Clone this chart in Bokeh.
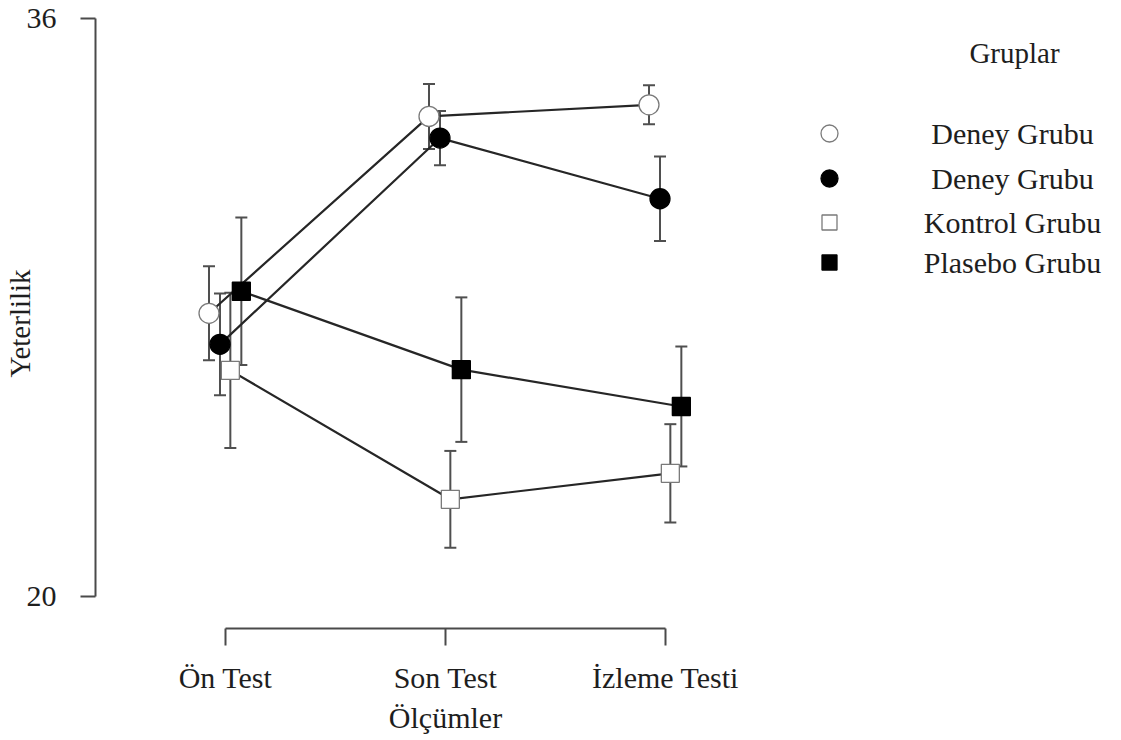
from bokeh.plotting import figure
from bokeh.layouts import row
from bokeh.models import (Range1d, FixedTicker, ColumnDataSource, Whisker, TeeHead, Label)
from bokeh.embed import file_html
from bokeh.resources import INLINE

# Measurement occasions (x axis)
measures = ["Ön Test", "Son Test", "İzleme Testi"]

# Group means and error half-widths for each occasion
group_names = ["Deney Grubu", "Deney Grubu", "Kontrol Grubu", "Plasebo Grubu"]
deney1_mean = [27.84, 33.29, 33.61]
deney1_err = [1.30, 0.90, 0.54]
deney2_mean = [26.98, 32.69, 31.01]
deney2_err = [1.41, 0.75, 1.17]
kontrol_mean = [26.26, 22.69, 23.41]
kontrol_err = [2.15, 1.34, 1.36]
plasebo_mean = [28.45, 26.28, 25.26]
plasebo_err = [2.04, 2.00, 1.66]

y_ticks = [20, 36]

FONT = "Liberation Serif"
TEXT = "#1e1e1e"
AXIS = "#4a4a4a"
BAR = "#4f4f4f"

TOP, BOTTOM = 18, 112

# ---------------- main chart ----------------
p = figure(width=795, height=740, title=None,
           x_range=Range1d(-0.5909, 2.5909), y_range=Range1d(19.114, 36),
           output_backend="svg", toolbar_location=None,
           min_border_left=95, min_border_right=0,
           min_border_top=TOP, min_border_bottom=BOTTOM)
p.outline_line_color = None
p.xgrid.visible = False
p.ygrid.visible = False

# y axis: only 20 and 36 marked, line limited to that span
yax = p.yaxis[0]
yax.ticker = FixedTicker(ticks=y_ticks)
yax.bounds = (20, 36)
yax.major_tick_in = 0
yax.major_tick_out = 15
yax.minor_tick_in = 0
yax.minor_tick_out = 0
yax.major_label_standoff = 24
yax.axis_line_color = AXIS
yax.axis_line_width = 2
yax.major_tick_line_color = AXIS
yax.major_tick_line_width = 2
yax.major_label_text_font = FONT
yax.major_label_text_font_size = "30px"
yax.major_label_text_color = TEXT
yax.axis_label = "Yeterlilik"
yax.axis_label_standoff = -12
yax.axis_label_text_font = FONT
yax.axis_label_text_font_size = "29px"
yax.axis_label_text_font_style = "normal"
yax.axis_label_text_color = TEXT

# x axis: three occasions
xax = p.xaxis[0]
xax.ticker = FixedTicker(ticks=[0, 1, 2])
xax.major_label_overrides = {i: m for i, m in enumerate(measures)}
xax.bounds = (0, 2)
xax.major_tick_in = 0
xax.major_tick_out = 17
xax.minor_tick_in = 0
xax.minor_tick_out = 0
xax.major_label_standoff = 15
xax.axis_line_color = AXIS
xax.axis_line_width = 2
xax.major_tick_line_color = AXIS
xax.major_tick_line_width = 2
xax.major_label_text_font = FONT
xax.major_label_text_font_size = "30px"
xax.major_label_text_color = TEXT
xax.axis_label = "Ölçümler"
xax.axis_label_standoff = 4
xax.axis_label_text_font = FONT
xax.axis_label_text_font_size = "30px"
xax.axis_label_text_font_style = "normal"
xax.axis_label_text_color = TEXT

# marker styles per group: (mean, err, dodge offset, marker, fill, outline, size)
series = [
    (deney1_mean, deney1_err, -0.075, "circle", "white", "#7a7a7a", 20),
    (deney2_mean, deney2_err, -0.025, "circle", "black", "black", 20),
    (kontrol_mean, kontrol_err, 0.022, "square", "white", "#7a7a7a", 18),
    (plasebo_mean, plasebo_err, 0.072, "square", "black", "black", 18),
]

sources = []
for mean, err, off, *_ in series:
    xs = [i + off for i in range(len(measures))]
    sources.append(ColumnDataSource(dict(
        x=xs, y=mean,
        lower=[m - e for m, e in zip(mean, err)],
        upper=[m + e for m, e in zip(mean, err)],
    )))

# error bars
for src in sources:
    p.add_layout(Whisker(
        source=src, base="x", lower="lower", upper="upper", dimension="height",
        line_color=BAR, line_width=2, level="underlay",
        upper_head=TeeHead(size=12, line_color=BAR, line_width=2),
        lower_head=TeeHead(size=12, line_color=BAR, line_width=2)))

# connecting lines
for src in sources:
    p.line("x", "y", source=src, line_color="#262626", line_width=2.2)

# markers
for src, (mean, err, off, marker, fill, line, size) in zip(sources, series):
    p.scatter("x", "y", source=src, marker=marker, size=size,
              fill_color=fill, line_color=line, line_width=1.3)

# ---------------- legend panel ----------------
# the panel's frame shares the main chart's top/bottom borders; its ranges are
# set so that coordinates are page pixels measured from the top-left corner
leg = figure(width=326, height=740, title=None,
             x_range=Range1d(795, 1121), y_range=Range1d(740 - BOTTOM, TOP),
             output_backend="svg", toolbar_location=None,
             x_axis_location=None, y_axis_location=None,
             min_border_left=0, min_border_right=0,
             min_border_top=TOP, min_border_bottom=BOTTOM)
leg.outline_line_color = None
leg.xgrid.visible = False
leg.ygrid.visible = False

legend_rows = [133, 178, 222, 262]
legend_sizes = [17, 17, 15, 15]
for (mean, err, off, marker, fill, line, size), name, yy, ms in zip(series, group_names, legend_rows, legend_sizes):
    leg.scatter([829], [yy], marker=marker, size=ms,
                fill_color=fill, line_color=line, line_width=1.3)
    leg.add_layout(Label(x=1012, y=yy, text=name, text_align="center",
                         text_baseline="middle", text_font=FONT,
                         text_font_size="30px", text_color=TEXT))

leg.add_layout(Label(x=1014, y=52, text="Gruplar", text_align="center",
                     text_baseline="middle", text_font=FONT,
                     text_font_size="29px", text_color=TEXT))

layout = row(p, leg, spacing=0)
open("out.html", "w").write(file_html(layout, INLINE))
